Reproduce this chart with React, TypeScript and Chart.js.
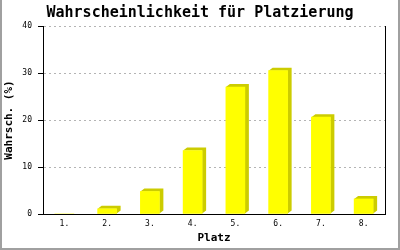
import React, { useEffect, useRef } from "react";
import { Chart, registerables } from "chart.js";

Chart.register(...registerables);

const titleText = "Wahrscheinlichkeit für Platzierung";
const xAxisTitle = "Platz";
const yAxisTitle = "Wahrsch. (%)";
const categories = ["1.", "2.", "3.", "4.", "5.", "6.", "7.", "8."];
const values = [0, 1.1, 4.8, 13.5, 27.0, 30.5, 20.6, 3.2];
const yMin = 0;
const yMax = 40;
const yStep = 10;

const FONT = "'DejaVu Sans Mono', 'Liberation Mono', monospace";

const decorPlugin = {
  id: "decor",
  beforeDatasetsDraw(chart: any) {
    const { ctx, chartArea } = chart;
    const y = chart.scales.y;
    ctx.save();
    // dashed horizontal grid lines
    ctx.strokeStyle = "#b4b4b4";
    ctx.lineWidth = 1;
    ctx.setLineDash([2, 3]);
    for (let v = yMin + yStep; v <= yMax; v += yStep) {
      const py = Math.round(y.getPixelForValue(v)) + 0.5;
      ctx.beginPath();
      ctx.moveTo(chartArea.left + 1, py);
      ctx.lineTo(chartArea.right, py);
      ctx.stroke();
    }
    ctx.setLineDash([]);
    // right solid line
    ctx.strokeStyle = "#000000";
    const rx = Math.round(chartArea.right) + 0.5;
    ctx.beginPath();
    ctx.moveTo(rx, Math.round(y.getPixelForValue(yMax)));
    ctx.lineTo(rx, Math.round(y.getPixelForValue(yMin)) + 1);
    ctx.stroke();
    // 3D extrusion of bars
    const meta = chart.getDatasetMeta(0);
    const d = 4;
    const h = 3;
    ctx.fillStyle = "#cccc00";
    meta.data.forEach((bar: any) => {
      const p = bar.getProps(["x", "y", "base", "width"], true);
      if (Math.abs(p.base - p.y) < 0.5) return;
      const x0 = p.x - p.width / 2;
      const x1 = p.x + p.width / 2;
      ctx.beginPath();
      ctx.moveTo(x0, p.y);
      ctx.lineTo(x0 + d, p.y - h);
      ctx.lineTo(x1 + d, p.y - h);
      ctx.lineTo(x1 + d, p.base - h);
      ctx.lineTo(x1, p.base);
      ctx.lineTo(x1, p.y);
      ctx.closePath();
      ctx.fill();
    });
    ctx.restore();
  },
  afterDraw(chart: any) {
    const { ctx, width, height } = chart;
    ctx.save();
    ctx.fillStyle = "#a0a0a0";
    ctx.fillRect(0, 0, 2, height);
    ctx.fillRect(width - 2, 0, 2, height);
    ctx.fillRect(0, height - 2, width, 2);
    ctx.restore();
  },
};

export default function App() {
  const ref = useRef<HTMLCanvasElement>(null);
  useEffect(() => {
    if (!ref.current) return;
    const chart = new Chart(ref.current, {
      type: "bar",
      data: {
        labels: categories,
        datasets: [
          {
            data: values,
            backgroundColor: "#ffff00",
            borderWidth: 0,
            barThickness: 19,
          },
        ],
      },
      options: {
        responsive: false,
        animation: false,
        devicePixelRatio: 1,
        layout: { padding: 0 },
        plugins: {
          legend: { display: false },
          tooltip: { enabled: false },
          title: {
            display: true,
            text: titleText,
            color: "#000000",
            font: { family: FONT, size: 15, weight: "bold" },
            padding: { top: 4, bottom: 4 },
          },
        },
        scales: {
          x: {
            grid: { display: false, drawTicks: false, tickLength: 0 },
            border: { display: true, color: "#000000", width: 1 },
            ticks: {
              color: "#000000",
              font: { family: FONT, size: 8 },
              padding: 5,
              maxRotation: 0,
            },
            title: {
              display: true,
              text: xAxisTitle,
              color: "#000000",
              font: { family: FONT, size: 11, weight: "bold" },
              padding: { top: 0, bottom: 5 },
            },
            afterFit(scale: any) {
              scale.height = 36;
            },
          },
          y: {
            min: yMin,
            max: yMax,
            grid: {
              drawOnChartArea: false,
              drawTicks: true,
              tickLength: 5,
              color: "#000000",
            },
            border: { display: true, color: "#000000", width: 1 },
            ticks: {
              stepSize: yStep,
              color: "#000000",
              font: { family: FONT, size: 8 },
              padding: 6,
            },
            title: {
              display: true,
              text: yAxisTitle,
              color: "#000000",
              font: { family: FONT, size: 11, weight: "bold" },
              padding: { top: 3, bottom: 0 },
            },
            afterFit(scale: any) {
              scale.width = 43;
            },
          },
          yRight: {
            position: "right",
            display: true,
            grid: { display: false, drawTicks: false },
            border: { display: false },
            ticks: { display: false },
            afterFit(scale: any) {
              scale.width = 15;
            },
          },
        },
      },
      plugins: [decorPlugin],
    });
    return () => chart.destroy();
  }, []);
  return (
    <div style={{ position: "absolute", left: 0, top: 0, width: 400, height: 250, background: "#ffffff" }}>
      <canvas ref={ref} width={400} height={250} />
    </div>
  );
}
